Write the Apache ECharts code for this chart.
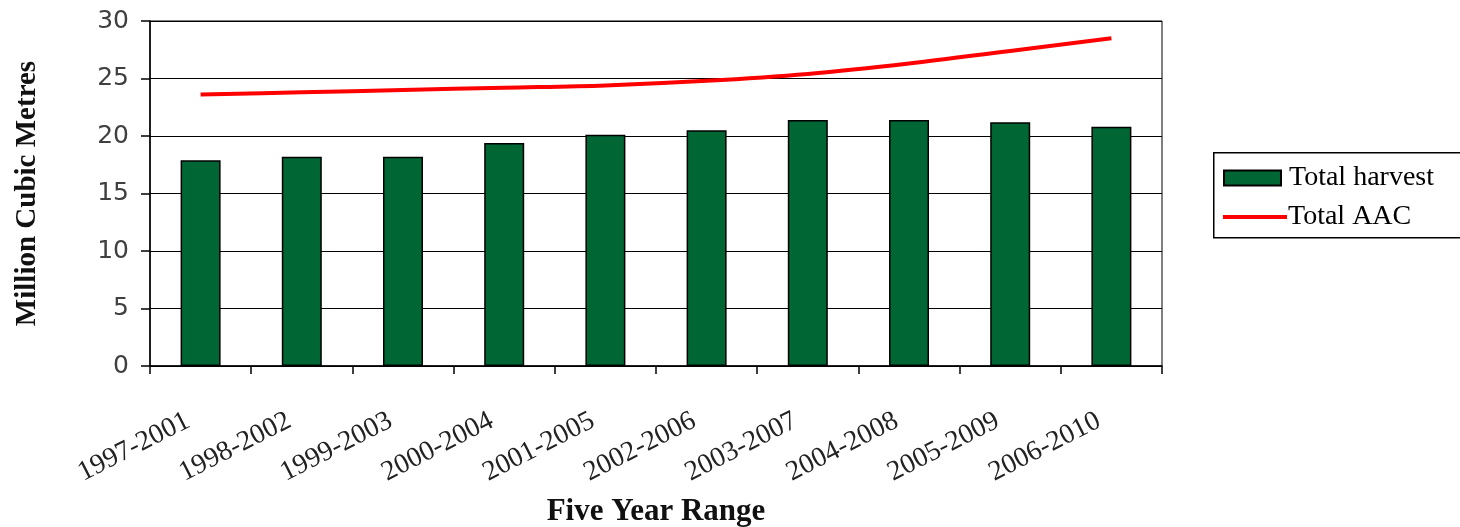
<!DOCTYPE html>
<html>
<head>
<meta charset="utf-8">
<title>Total harvest vs Total AAC</title>
<script src="https://cdn.jsdelivr.net/npm/echarts@6/dist/echarts.min.js"></script>
<style>
  html, body { margin: 0; padding: 0; background: #fff; }
  #chart { width: 1460px; height: 527px; }
</style>
</head>
<body>
<div id="chart"></div>
<script>
// five year ranges on the x axis
const ranges = [
  "1997-2001", "1998-2002", "1999-2003", "2000-2004", "2001-2005",
  "2002-2006", "2003-2007", "2004-2008", "2005-2009", "2006-2010",
];
// million cubic metres
const totalHarvest = [17.9, 18.2, 18.2, 19.4, 20.1, 20.5, 21.4, 21.4, 21.2, 20.8];
const totalAAC = [23.6, 23.8, 24.0, 24.2, 24.4, 24.8, 25.4, 26.3, 27.4, 28.5];
const yTicks = { min: 0, max: 30, interval: 5 };

const SERIF = "'Liberation Serif', 'DejaVu Serif', serif";
const SANS = "'DejaVu Sans', sans-serif";
const legendText = { fontFamily: SERIF, fontSize: 28, color: "#000" };

const chart = echarts.init(document.getElementById("chart"), null, { renderer: "canvas" });

chart.setOption({
  animation: false,
  backgroundColor: "#fff",
  grid: {
    left: 150,
    right: 298,
    top: 21,
    bottom: 161,
    outerBoundsMode: "none",
    show: true,
    borderColor: "#000",
    borderWidth: 1,
    backgroundColor: "transparent",
  },
  // two legends so the bar swatch and the line swatch can have different heights
  legend: [
    {
      left: 1218,
      top: 159,
      itemWidth: 57,
      itemHeight: 15,
      icon: "rect",
      textStyle: { ...legendText, padding: [0, 0, 0, 3] },
      data: ["Total harvest"],
    },
    {
      left: 1218,
      top: 198,
      itemWidth: 64,
      itemHeight: 4,
      icon: "rect",
      textStyle: { ...legendText, padding: [0, 0, 0, -4] },
      data: ["Total AAC"],
    },
  ],
  graphic: [
    {
      type: "rect",
      left: 1213,
      top: 152,
      shape: { width: 262, height: 85 },
      style: { fill: "transparent", stroke: "#000", lineWidth: 1.5 },
      z: 0,
    },
  ],
  xAxis: {
    type: "category",
    data: ranges,
    boundaryGap: true,
    name: "Five Year Range",
    nameLocation: "middle",
    nameGap: 130,
    nameTextStyle: { fontFamily: SERIF, fontSize: 31, fontWeight: "bold", color: "#111" },
    axisLine: { lineStyle: { color: "#000", width: 1.5 } },
    axisTick: { show: true, length: 8, lineStyle: { color: "#000", width: 1.5 } },
    axisLabel: {
      interval: 0,
      rotate: 27,
      margin: 47,
      padding: [0, 14, 0, 0],
      fontFamily: SERIF,
      fontSize: 28,
      color: "#222",
    },
    splitLine: { show: false },
  },
  yAxis: {
    type: "value",
    min: yTicks.min,
    max: yTicks.max,
    interval: yTicks.interval,
    name: "Million Cubic Metres",
    nameLocation: "middle",
    nameRotate: 90,
    nameGap: 108,
    nameTextStyle: { fontFamily: SERIF, fontSize: 29, fontWeight: "bold", color: "#111" },
    axisLine: { show: true, lineStyle: { color: "#000", width: 1.5 } },
    axisTick: { show: true, inside: false, length: 9, lineStyle: { color: "#000", width: 1.5 } },
    axisLabel: { margin: 21, fontFamily: SANS, fontSize: 25, color: "#404040" },
    splitLine: { show: true, lineStyle: { color: "#000", width: 1 } },
  },
  series: [
    {
      name: "Total harvest",
      type: "bar",
      data: totalHarvest,
      barWidth: 40,
      itemStyle: { color: "#006633", borderColor: "#000", borderWidth: 1.5 },
    },
    {
      name: "Total AAC",
      type: "line",
      data: totalAAC,
      smooth: 0.35,
      symbol: "none",
      lineStyle: { color: "#ff0000", width: 4 },
      itemStyle: { color: "#ff0000" },
      z: 5,
    },
  ],
});

window.addEventListener("resize", () => chart.resize());
</script>
</body>
</html>
